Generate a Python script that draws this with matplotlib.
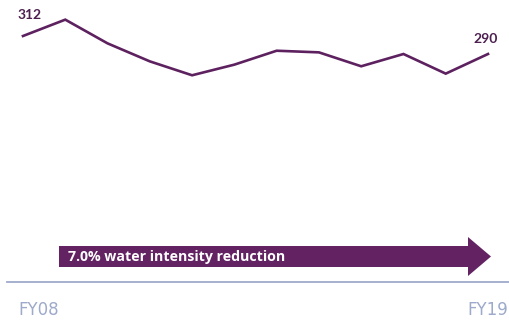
import matplotlib
matplotlib.use('Agg')
import matplotlib.pyplot as plt
from matplotlib.patches import Polygon

# Water intensity FY08 - FY19
years = ['FY08', 'FY09', 'FY10', 'FY11', 'FY12', 'FY13',
         'FY14', 'FY15', 'FY16', 'FY17', 'FY18', 'FY19']
intensity = [312, 332, 303, 281, 264, 277, 294, 292, 275, 290, 266, 290]
arrow_text = '7.0% water intensity reduction'

line_color = '#5e2160'
arrow_color = '#632363'
axis_color = '#9eaacb'

fig = plt.figure(figsize=(5.1, 3.2), dpi=100)
ax = fig.add_axes([0, 0, 1, 1])
ax.set_xlim(-0.544, 11.52)
ax.set_ylim(-35.1, 356)
ax.axis('off')

x = list(range(len(years)))
ax.plot(x, intensity, color=line_color, lw=1.9, solid_joinstyle='miter')

# first / last value labels
ax.text(x[0] + 0.15, intensity[0] + 26, str(intensity[0]), ha='center', va='center',
        fontsize=10, fontweight='bold', color='#4d2050', family='Lato')
ax.text(x[-1] - 0.06, intensity[-1] + 18, str(intensity[-1]), ha='center', va='center',
        fontsize=10, fontweight='bold', color='#4d2050', family='Lato')

# reduction arrow (figure pixels -> fraction)
W, H = 510, 320
pts = [(59, 246), (468, 246), (468, 237), (491, 256.5), (468, 276), (468, 267), (59, 267)]
arrow = Polygon([(px / W, 1 - py / H) for px, py in pts], closed=True,
                transform=fig.transFigure, facecolor=arrow_color, edgecolor='none')
fig.patches.append(arrow)
fig.text(68 / W, 1 - 257 / H, arrow_text, ha='left', va='center', color='white',
         fontsize=10.2, fontweight='bold', family='Open Sans')

# baseline
fig.add_artist(plt.Line2D([7 / W, 1], [1 - 282 / H] * 2, transform=fig.transFigure,
                          color=axis_color, lw=1.3))
fig.text(18 / W, 1 - 310 / H, years[0], ha='left', va='center', color=axis_color,
         fontsize=12, family='DejaVu Sans')
fig.text(508 / W, 1 - 310 / H, years[-1], ha='right', va='center', color=axis_color,
         fontsize=12, family='DejaVu Sans')

fig.savefig('out.png', dpi=100)
